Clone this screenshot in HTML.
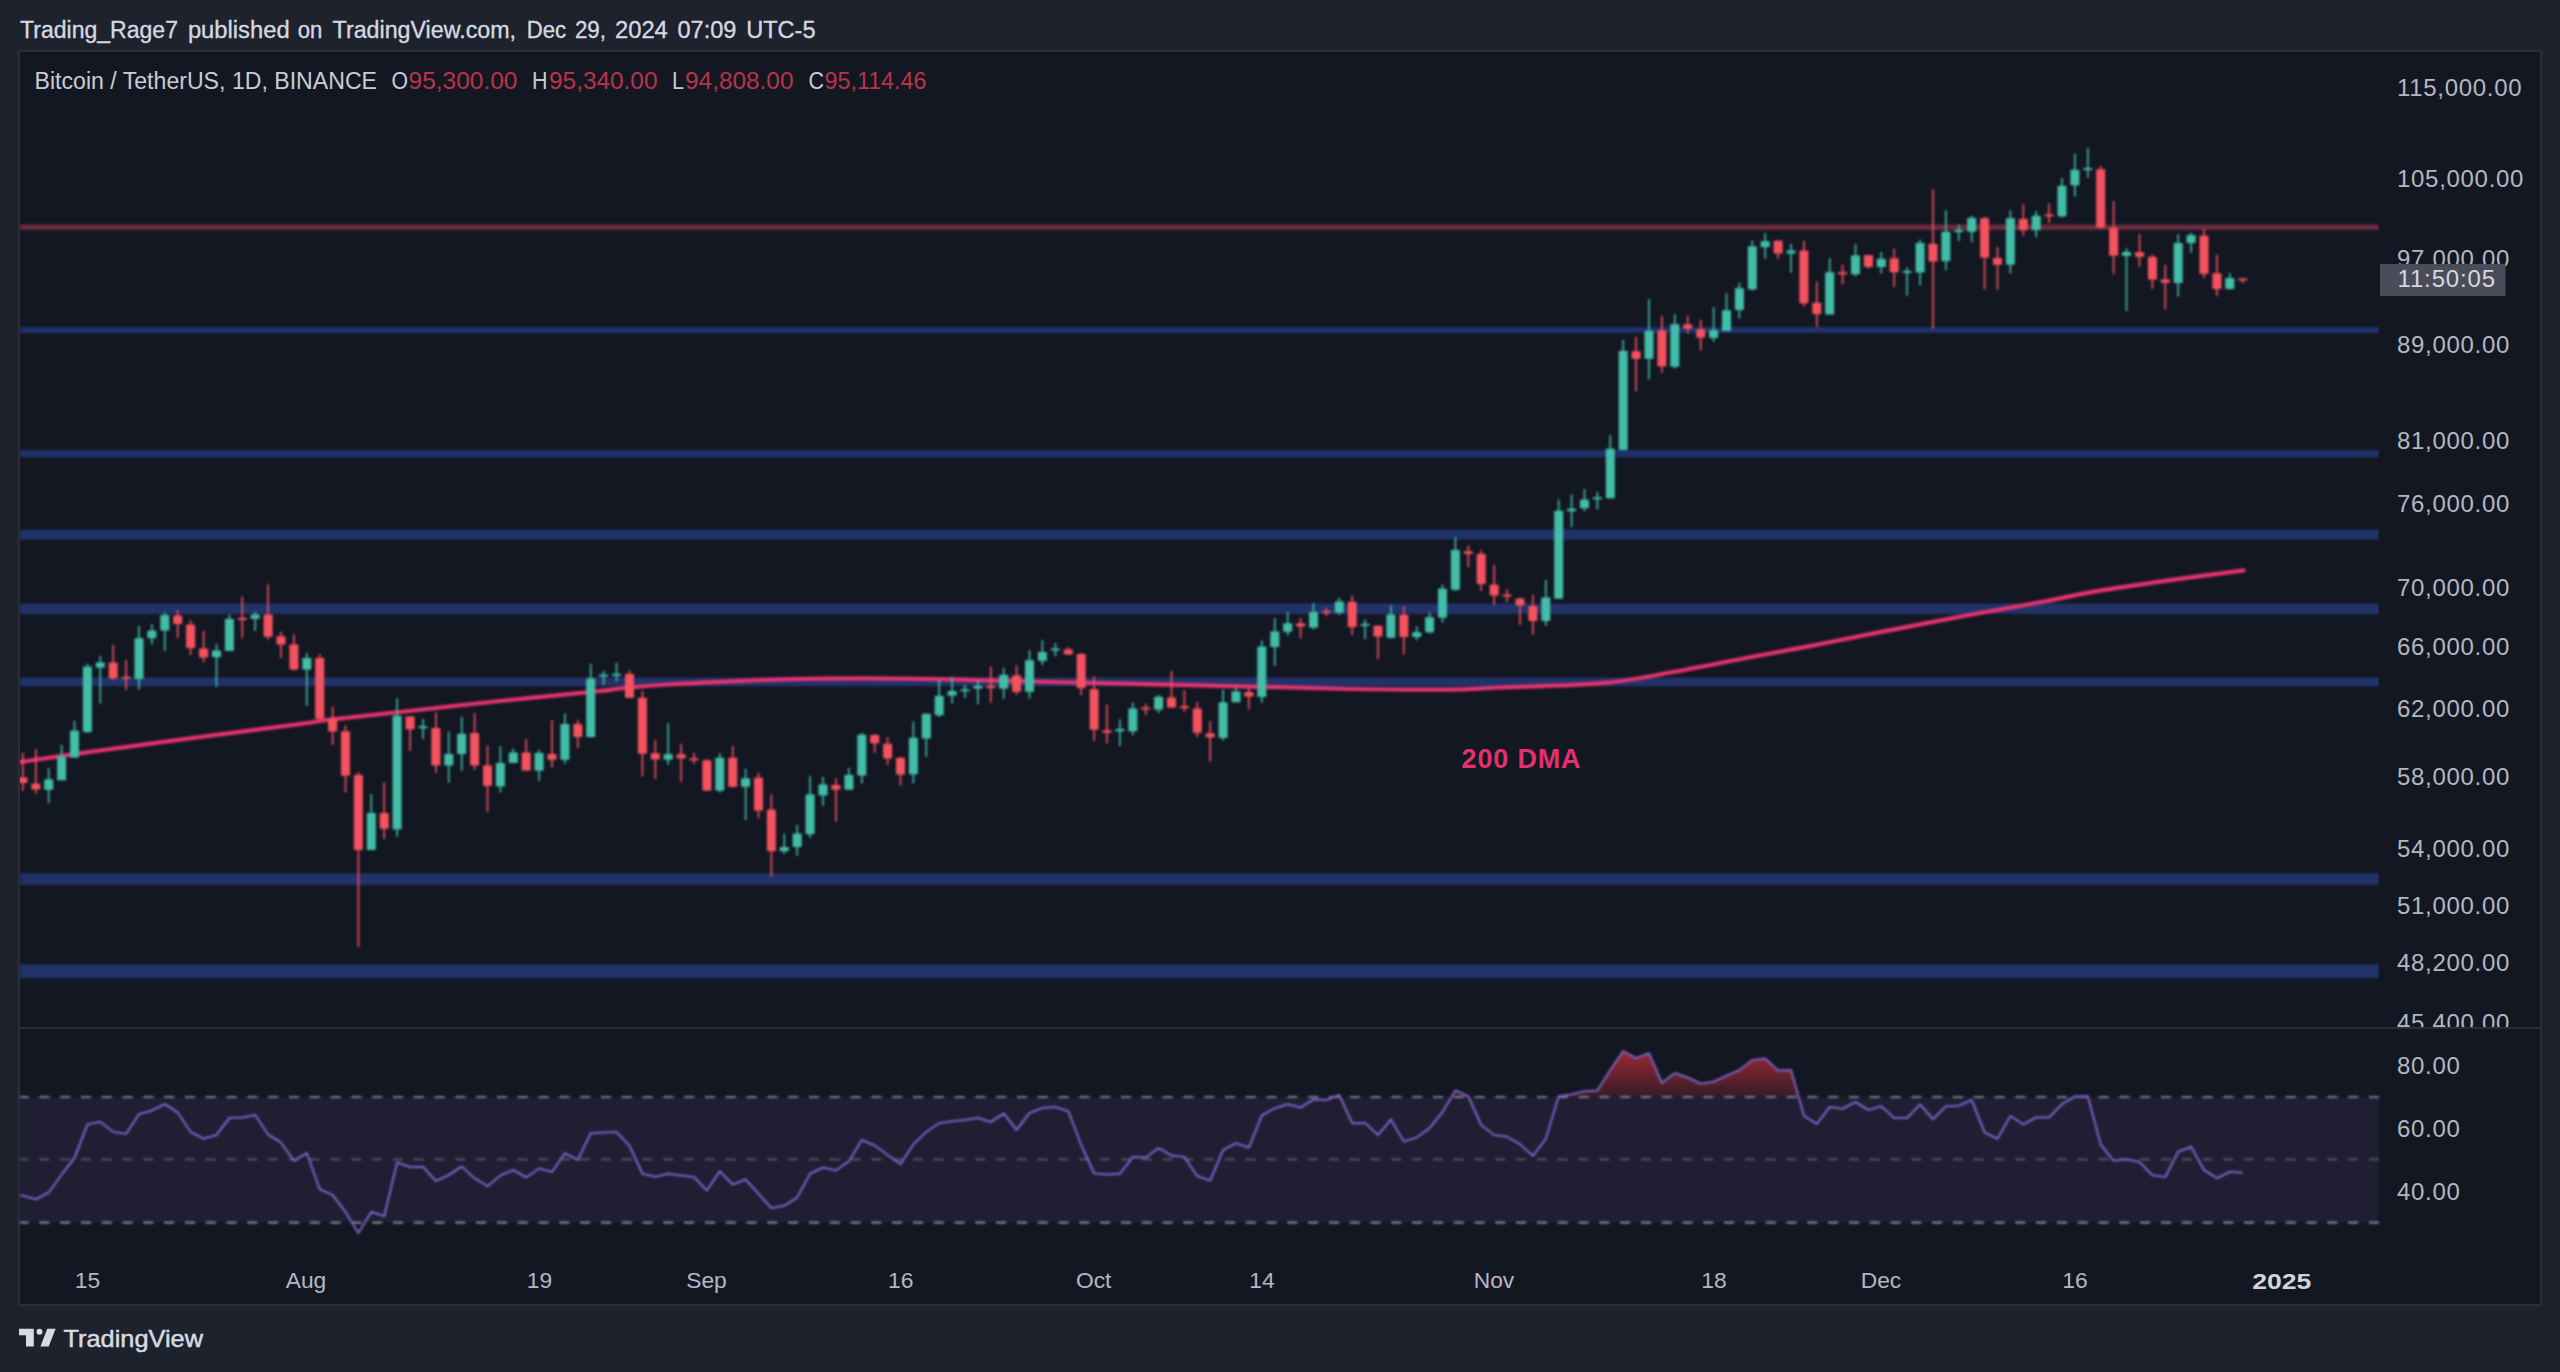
<!DOCTYPE html><html><head><meta charset="utf-8"><title>BTCUSDT chart</title>
<style>html,body{margin:0;padding:0;background:#1e222d;}body{width:2560px;height:1372px;overflow:hidden;position:relative;font-family:"Liberation Sans",sans-serif;}svg{position:absolute;left:0;top:0;display:block}text{font-family:"Liberation Sans",sans-serif;}.ax{font-size:24px;fill:#b4b7c1;letter-spacing:0.7px}.tm{font-size:22.8px;fill:#b4b7c1;text-anchor:middle}.hd{font-size:23px;fill:#d5d8e0}</style></head><body>
<svg width="2560" height="1372" viewBox="0 0 2560 1372">
<defs><clipPath id="plot"><rect x="20" y="52" width="2359" height="975"/></clipPath><clipPath id="pax"><rect x="2380" y="52" width="160" height="975"/></clipPath><clipPath id="rsiob"><rect x="20" y="1029" width="2359" height="68"/></clipPath><linearGradient id="ob" x1="0" y1="1029" x2="0" y2="1097" gradientUnits="userSpaceOnUse"><stop offset="0" stop-color="#ff3942" stop-opacity="0.78"/><stop offset="1" stop-color="#ff3942" stop-opacity="0.15"/></linearGradient><filter id="bl" x="0" y="0" width="2560" height="1372" filterUnits="userSpaceOnUse" color-interpolation-filters="sRGB"><feGaussianBlur stdDeviation="0.8"/></filter></defs>
<rect width="2560" height="1372" fill="#1e222d"/>
<rect x="19" y="51" width="2522" height="1254" fill="#131722" stroke="#2a2e39" stroke-width="2"/>
<text class="hd" y="37.6" stroke="#d5d8e0" stroke-width="0.35"><tspan x="20.0" textLength="158.0" lengthAdjust="spacingAndGlyphs">Trading_Rage7</tspan> <tspan x="187.9" textLength="101.7" lengthAdjust="spacingAndGlyphs">published</tspan> <tspan x="297.8" textLength="24.6" lengthAdjust="spacingAndGlyphs">on</tspan> <tspan x="332.6" textLength="183.4" lengthAdjust="spacingAndGlyphs">TradingView.com,</tspan> <tspan x="526.8" textLength="39.4" lengthAdjust="spacingAndGlyphs">Dec</tspan> <tspan x="574.9" textLength="31.1" lengthAdjust="spacingAndGlyphs">29,</tspan> <tspan x="615" textLength="52.8" lengthAdjust="spacingAndGlyphs">2024</tspan> <tspan x="677.5" textLength="58.9" lengthAdjust="spacingAndGlyphs">07:09</tspan> <tspan x="746.2" textLength="69.4" lengthAdjust="spacingAndGlyphs">UTC-5</tspan></text>
<g clip-path="url(#plot)"><g filter="url(#bl)">
<rect x="20" y="224.6" width="2359" height="5.4" fill="#6a2c40"/>
<rect x="20" y="327" width="2359" height="6.0" fill="#203268"/>
<rect x="20" y="450" width="2359" height="7.3" fill="#203268"/>
<rect x="20" y="529.5" width="2359" height="10.0" fill="#203268"/>
<rect x="20" y="603.5" width="2359" height="10.5" fill="#203268"/>
<rect x="20" y="677.5" width="2359" height="8.7" fill="#203268"/>
<rect x="20" y="873.3" width="2359" height="11.7" fill="#203268"/>
<rect x="20" y="964.3" width="2359" height="13.7" fill="#203268"/>
<path d="M20,762C33.3,760.1 70.0,754.7 100,750.5C130.0,746.3 166.7,741.4 200,737C233.3,732.6 278.3,726.9 300,724C321.7,721.1 313.3,721.7 330,719.7C346.7,717.7 371.7,715.1 400,712C428.3,708.9 466.7,704.5 500,701C533.3,697.5 580.0,693.1 600,691C620.0,688.9 607.3,689.7 620,688.5C632.7,687.3 647.7,685.5 676,684C704.3,682.5 749.3,680.1 790,679.2C830.7,678.3 876.5,678.3 920,678.8C963.5,679.3 1001.0,680.8 1051,682C1101.0,683.2 1170.0,684.6 1220,685.8C1270.0,687.0 1313.3,688.4 1351,689C1388.7,689.6 1421.2,689.9 1446,689.6C1470.8,689.4 1473.8,688.6 1500,687.5C1526.2,686.4 1574.8,685.6 1603,683.1C1631.2,680.6 1644.5,677.1 1669,672.8C1693.5,668.5 1726.1,661.7 1750,657.2C1773.9,652.7 1791.7,649.6 1812.5,645.6C1833.3,641.6 1848.9,638.2 1875,633.1C1901.1,628.0 1940.3,620.4 1969,615C1997.7,609.6 2026.2,604.9 2047,601C2067.8,597.1 2075.8,594.7 2094,591.6C2112.2,588.5 2131.1,585.8 2156,582.2C2180.9,578.7 2229.1,572.3 2243.7,570.3" fill="none" stroke="#e6336f" stroke-width="4.2" stroke-linejoin="round" stroke-linecap="round"/>
<rect x="22.1" y="752.8" width="1.6" height="37.9" fill="#f5525f"/>
<rect x="18.4" y="777.5" width="9" height="5.5" fill="#f5525f"/>
<rect x="35.0" y="749.0" width="1.6" height="44.6" fill="#f5525f"/>
<rect x="31.3" y="783.7" width="9" height="5.7" fill="#f5525f"/>
<rect x="47.9" y="768.0" width="1.6" height="35.0" fill="#42bda8"/>
<rect x="44.2" y="779.4" width="9" height="10.4" fill="#42bda8"/>
<rect x="60.8" y="745.0" width="1.6" height="35.3" fill="#42bda8"/>
<rect x="57.1" y="756.6" width="9" height="23.7" fill="#42bda8"/>
<rect x="73.7" y="720.6" width="1.6" height="37.0" fill="#42bda8"/>
<rect x="70.0" y="730.7" width="9" height="26.9" fill="#42bda8"/>
<rect x="86.6" y="663.8" width="1.6" height="69.2" fill="#42bda8"/>
<rect x="82.9" y="666.6" width="9" height="65.4" fill="#42bda8"/>
<rect x="99.5" y="656.0" width="1.6" height="47.6" fill="#42bda8"/>
<rect x="95.8" y="662.5" width="9" height="5.1" fill="#42bda8"/>
<rect x="112.4" y="644.8" width="1.6" height="35.2" fill="#f5525f"/>
<rect x="108.7" y="662.5" width="9" height="15.9" fill="#f5525f"/>
<rect x="125.3" y="660.0" width="1.6" height="30.0" fill="#f5525f"/>
<rect x="121.6" y="676.7" width="9" height="2.0" fill="#f5525f"/>
<rect x="138.2" y="626.0" width="1.6" height="63.7" fill="#42bda8"/>
<rect x="134.5" y="638.2" width="9" height="40.8" fill="#42bda8"/>
<rect x="151.1" y="624.0" width="1.6" height="20.5" fill="#42bda8"/>
<rect x="147.4" y="630.6" width="9" height="7.6" fill="#42bda8"/>
<rect x="164.0" y="612.6" width="1.6" height="38.4" fill="#42bda8"/>
<rect x="160.3" y="615.0" width="9" height="15.6" fill="#42bda8"/>
<rect x="176.9" y="609.8" width="1.6" height="28.4" fill="#f5525f"/>
<rect x="173.2" y="615.5" width="9" height="8.5" fill="#f5525f"/>
<rect x="189.8" y="620.2" width="1.6" height="35.1" fill="#f5525f"/>
<rect x="186.1" y="624.6" width="9" height="23.4" fill="#f5525f"/>
<rect x="202.8" y="630.6" width="1.6" height="31.4" fill="#f5525f"/>
<rect x="199.1" y="648.6" width="9" height="8.9" fill="#f5525f"/>
<rect x="215.7" y="644.0" width="1.6" height="43.0" fill="#42bda8"/>
<rect x="212.0" y="650.5" width="9" height="6.7" fill="#42bda8"/>
<rect x="228.6" y="614.5" width="1.6" height="36.5" fill="#42bda8"/>
<rect x="224.9" y="618.9" width="9" height="32.1" fill="#42bda8"/>
<rect x="241.5" y="596.5" width="1.6" height="41.7" fill="#f5525f"/>
<rect x="237.8" y="618.0" width="9" height="2.0" fill="#f5525f"/>
<rect x="254.4" y="611.7" width="1.6" height="19.3" fill="#42bda8"/>
<rect x="250.7" y="614.5" width="9" height="4.4" fill="#42bda8"/>
<rect x="267.3" y="584.2" width="1.6" height="55.5" fill="#f5525f"/>
<rect x="263.6" y="614.5" width="9" height="22.2" fill="#f5525f"/>
<rect x="280.2" y="631.6" width="1.6" height="26.4" fill="#f5525f"/>
<rect x="276.5" y="636.3" width="9" height="8.2" fill="#f5525f"/>
<rect x="293.1" y="634.4" width="1.6" height="36.0" fill="#f5525f"/>
<rect x="289.4" y="644.5" width="9" height="25.0" fill="#f5525f"/>
<rect x="306.0" y="653.0" width="1.6" height="53.0" fill="#42bda8"/>
<rect x="302.3" y="658.0" width="9" height="11.5" fill="#42bda8"/>
<rect x="318.9" y="654.0" width="1.6" height="65.0" fill="#f5525f"/>
<rect x="315.2" y="658.0" width="9" height="60.6" fill="#f5525f"/>
<rect x="331.8" y="706.7" width="1.6" height="38.3" fill="#f5525f"/>
<rect x="328.1" y="719.0" width="9" height="12.5" fill="#f5525f"/>
<rect x="344.7" y="725.4" width="1.6" height="67.1" fill="#f5525f"/>
<rect x="341.0" y="731.5" width="9" height="44.1" fill="#f5525f"/>
<rect x="357.6" y="772.0" width="1.6" height="175.0" fill="#f5525f"/>
<rect x="353.9" y="775.0" width="9" height="75.0" fill="#f5525f"/>
<rect x="370.5" y="794.0" width="1.6" height="56.0" fill="#42bda8"/>
<rect x="366.8" y="813.0" width="9" height="37.0" fill="#42bda8"/>
<rect x="383.4" y="782.4" width="1.6" height="56.5" fill="#f5525f"/>
<rect x="379.7" y="813.0" width="9" height="15.7" fill="#f5525f"/>
<rect x="396.3" y="698.3" width="1.6" height="138.3" fill="#42bda8"/>
<rect x="392.6" y="715.7" width="9" height="113.7" fill="#42bda8"/>
<rect x="409.3" y="716.4" width="1.6" height="34.6" fill="#f5525f"/>
<rect x="405.6" y="716.4" width="9" height="12.9" fill="#f5525f"/>
<rect x="422.2" y="719.0" width="1.6" height="20.0" fill="#42bda8"/>
<rect x="418.5" y="726.2" width="9" height="2.0" fill="#42bda8"/>
<rect x="435.1" y="712.3" width="1.6" height="60.7" fill="#f5525f"/>
<rect x="431.4" y="728.0" width="9" height="37.4" fill="#f5525f"/>
<rect x="448.0" y="731.5" width="1.6" height="51.3" fill="#42bda8"/>
<rect x="444.3" y="754.0" width="9" height="11.4" fill="#42bda8"/>
<rect x="460.9" y="716.8" width="1.6" height="54.2" fill="#42bda8"/>
<rect x="457.2" y="733.8" width="9" height="20.2" fill="#42bda8"/>
<rect x="473.8" y="712.8" width="1.6" height="57.2" fill="#f5525f"/>
<rect x="470.1" y="733.0" width="9" height="32.4" fill="#f5525f"/>
<rect x="486.7" y="745.8" width="1.6" height="66.2" fill="#f5525f"/>
<rect x="483.0" y="765.4" width="9" height="20.4" fill="#f5525f"/>
<rect x="499.6" y="746.0" width="1.6" height="46.5" fill="#42bda8"/>
<rect x="495.9" y="763.0" width="9" height="23.4" fill="#42bda8"/>
<rect x="512.5" y="748.5" width="1.6" height="14.5" fill="#42bda8"/>
<rect x="508.8" y="752.5" width="9" height="10.5" fill="#42bda8"/>
<rect x="525.4" y="739.0" width="1.6" height="31.6" fill="#f5525f"/>
<rect x="521.7" y="752.5" width="9" height="18.1" fill="#f5525f"/>
<rect x="538.3" y="750.0" width="1.6" height="31.0" fill="#42bda8"/>
<rect x="534.6" y="753.0" width="9" height="17.6" fill="#42bda8"/>
<rect x="551.2" y="720.0" width="1.6" height="47.7" fill="#f5525f"/>
<rect x="547.5" y="754.0" width="9" height="5.8" fill="#f5525f"/>
<rect x="564.1" y="713.4" width="1.6" height="50.4" fill="#42bda8"/>
<rect x="560.4" y="724.0" width="9" height="35.8" fill="#42bda8"/>
<rect x="577.0" y="720.0" width="1.6" height="28.0" fill="#f5525f"/>
<rect x="573.3" y="724.0" width="9" height="13.0" fill="#f5525f"/>
<rect x="589.9" y="663.7" width="1.6" height="73.9" fill="#42bda8"/>
<rect x="586.2" y="678.4" width="9" height="58.6" fill="#42bda8"/>
<rect x="602.8" y="670.8" width="1.6" height="14.4" fill="#42bda8"/>
<rect x="599.1" y="674.6" width="9" height="2.0" fill="#42bda8"/>
<rect x="615.7" y="662.5" width="1.6" height="19.0" fill="#42bda8"/>
<rect x="612.0" y="673.8" width="9" height="2.0" fill="#42bda8"/>
<rect x="628.7" y="670.3" width="1.6" height="27.7" fill="#f5525f"/>
<rect x="625.0" y="674.0" width="9" height="23.8" fill="#f5525f"/>
<rect x="641.6" y="691.0" width="1.6" height="85.4" fill="#f5525f"/>
<rect x="637.9" y="697.8" width="9" height="55.9" fill="#f5525f"/>
<rect x="654.5" y="740.0" width="1.6" height="39.0" fill="#f5525f"/>
<rect x="650.8" y="753.3" width="9" height="6.1" fill="#f5525f"/>
<rect x="667.4" y="723.4" width="1.6" height="41.3" fill="#42bda8"/>
<rect x="663.7" y="754.2" width="9" height="5.5" fill="#42bda8"/>
<rect x="680.3" y="744.0" width="1.6" height="38.0" fill="#f5525f"/>
<rect x="676.6" y="754.2" width="9" height="4.2" fill="#f5525f"/>
<rect x="693.2" y="752.7" width="1.6" height="11.3" fill="#f5525f"/>
<rect x="689.5" y="758.3" width="9" height="2.0" fill="#f5525f"/>
<rect x="706.1" y="759.4" width="1.6" height="31.2" fill="#f5525f"/>
<rect x="702.4" y="760.3" width="9" height="30.3" fill="#f5525f"/>
<rect x="719.0" y="753.3" width="1.6" height="39.2" fill="#42bda8"/>
<rect x="715.3" y="757.8" width="9" height="32.8" fill="#42bda8"/>
<rect x="731.9" y="746.0" width="1.6" height="41.4" fill="#f5525f"/>
<rect x="728.2" y="757.8" width="9" height="29.0" fill="#f5525f"/>
<rect x="744.8" y="768.5" width="1.6" height="51.5" fill="#42bda8"/>
<rect x="741.1" y="778.3" width="9" height="8.5" fill="#42bda8"/>
<rect x="757.7" y="772.6" width="1.6" height="45.9" fill="#f5525f"/>
<rect x="754.0" y="777.7" width="9" height="32.8" fill="#f5525f"/>
<rect x="770.6" y="794.4" width="1.6" height="82.4" fill="#f5525f"/>
<rect x="766.9" y="809.6" width="9" height="41.6" fill="#f5525f"/>
<rect x="783.5" y="833.6" width="1.6" height="20.4" fill="#42bda8"/>
<rect x="779.8" y="847.0" width="9" height="4.2" fill="#42bda8"/>
<rect x="796.4" y="824.7" width="1.6" height="30.9" fill="#42bda8"/>
<rect x="792.7" y="833.6" width="9" height="13.4" fill="#42bda8"/>
<rect x="809.3" y="776.0" width="1.6" height="62.0" fill="#42bda8"/>
<rect x="805.6" y="794.4" width="9" height="39.8" fill="#42bda8"/>
<rect x="822.2" y="776.8" width="1.6" height="29.0" fill="#42bda8"/>
<rect x="818.5" y="784.4" width="9" height="11.0" fill="#42bda8"/>
<rect x="835.1" y="778.3" width="1.6" height="43.6" fill="#f5525f"/>
<rect x="831.4" y="785.0" width="9" height="4.7" fill="#f5525f"/>
<rect x="848.1" y="767.9" width="1.6" height="21.8" fill="#42bda8"/>
<rect x="844.4" y="775.0" width="9" height="14.7" fill="#42bda8"/>
<rect x="861.0" y="732.8" width="1.6" height="50.8" fill="#42bda8"/>
<rect x="857.3" y="734.7" width="9" height="40.8" fill="#42bda8"/>
<rect x="873.9" y="733.8" width="1.6" height="18.9" fill="#f5525f"/>
<rect x="870.2" y="735.0" width="9" height="8.3" fill="#f5525f"/>
<rect x="886.8" y="737.0" width="1.6" height="28.0" fill="#f5525f"/>
<rect x="883.1" y="743.8" width="9" height="14.6" fill="#f5525f"/>
<rect x="899.7" y="757.0" width="1.6" height="28.5" fill="#f5525f"/>
<rect x="896.0" y="757.8" width="9" height="16.8" fill="#f5525f"/>
<rect x="912.6" y="721.6" width="1.6" height="61.9" fill="#42bda8"/>
<rect x="908.9" y="737.8" width="9" height="36.4" fill="#42bda8"/>
<rect x="925.5" y="713.3" width="1.6" height="43.5" fill="#42bda8"/>
<rect x="921.8" y="713.8" width="9" height="24.7" fill="#42bda8"/>
<rect x="938.4" y="680.0" width="1.6" height="37.0" fill="#42bda8"/>
<rect x="934.7" y="695.8" width="9" height="19.4" fill="#42bda8"/>
<rect x="951.3" y="676.7" width="1.6" height="27.1" fill="#42bda8"/>
<rect x="947.6" y="691.0" width="9" height="4.6" fill="#42bda8"/>
<rect x="964.2" y="684.8" width="1.6" height="13.2" fill="#42bda8"/>
<rect x="960.5" y="689.3" width="9" height="2.0" fill="#42bda8"/>
<rect x="977.1" y="680.0" width="1.6" height="24.4" fill="#42bda8"/>
<rect x="973.4" y="685.8" width="9" height="2.8" fill="#42bda8"/>
<rect x="990.0" y="666.5" width="1.6" height="36.0" fill="#f5525f"/>
<rect x="986.3" y="685.8" width="9" height="2.2" fill="#f5525f"/>
<rect x="1002.9" y="667.8" width="1.6" height="31.2" fill="#42bda8"/>
<rect x="999.2" y="674.8" width="9" height="13.8" fill="#42bda8"/>
<rect x="1015.8" y="665.3" width="1.6" height="29.6" fill="#f5525f"/>
<rect x="1012.1" y="675.4" width="9" height="16.4" fill="#f5525f"/>
<rect x="1028.7" y="650.2" width="1.6" height="48.5" fill="#42bda8"/>
<rect x="1025.0" y="660.2" width="9" height="31.6" fill="#42bda8"/>
<rect x="1041.6" y="640.0" width="1.6" height="25.0" fill="#42bda8"/>
<rect x="1037.9" y="652.0" width="9" height="8.8" fill="#42bda8"/>
<rect x="1054.6" y="643.0" width="1.6" height="13.4" fill="#42bda8"/>
<rect x="1050.9" y="648.5" width="9" height="2.0" fill="#42bda8"/>
<rect x="1067.5" y="647.0" width="1.6" height="8.0" fill="#f5525f"/>
<rect x="1063.8" y="649.4" width="9" height="5.1" fill="#f5525f"/>
<rect x="1080.4" y="653.2" width="1.6" height="42.1" fill="#f5525f"/>
<rect x="1076.7" y="654.0" width="9" height="34.0" fill="#f5525f"/>
<rect x="1093.3" y="676.3" width="1.6" height="64.4" fill="#f5525f"/>
<rect x="1089.6" y="689.2" width="9" height="40.5" fill="#f5525f"/>
<rect x="1106.2" y="704.4" width="1.6" height="39.2" fill="#f5525f"/>
<rect x="1102.5" y="730.3" width="9" height="2.5" fill="#f5525f"/>
<rect x="1119.1" y="719.5" width="1.6" height="26.5" fill="#42bda8"/>
<rect x="1115.4" y="729.0" width="9" height="2.3" fill="#42bda8"/>
<rect x="1132.0" y="702.5" width="1.6" height="32.9" fill="#42bda8"/>
<rect x="1128.3" y="708.5" width="9" height="22.8" fill="#42bda8"/>
<rect x="1144.9" y="703.8" width="1.6" height="11.4" fill="#f5525f"/>
<rect x="1141.2" y="707.5" width="9" height="2.0" fill="#f5525f"/>
<rect x="1157.8" y="694.9" width="1.6" height="18.4" fill="#42bda8"/>
<rect x="1154.1" y="696.8" width="9" height="12.7" fill="#42bda8"/>
<rect x="1170.7" y="670.6" width="1.6" height="37.0" fill="#f5525f"/>
<rect x="1167.0" y="697.5" width="9" height="10.1" fill="#f5525f"/>
<rect x="1183.6" y="690.0" width="1.6" height="22.0" fill="#f5525f"/>
<rect x="1179.9" y="706.2" width="9" height="2.0" fill="#f5525f"/>
<rect x="1196.5" y="702.0" width="1.6" height="35.3" fill="#f5525f"/>
<rect x="1192.8" y="708.5" width="9" height="24.3" fill="#f5525f"/>
<rect x="1209.4" y="721.0" width="1.6" height="40.6" fill="#f5525f"/>
<rect x="1205.7" y="733.3" width="9" height="4.1" fill="#f5525f"/>
<rect x="1222.3" y="689.6" width="1.6" height="51.1" fill="#42bda8"/>
<rect x="1218.6" y="702.3" width="9" height="35.6" fill="#42bda8"/>
<rect x="1235.2" y="687.7" width="1.6" height="14.6" fill="#42bda8"/>
<rect x="1231.5" y="691.5" width="9" height="10.8" fill="#42bda8"/>
<rect x="1248.1" y="688.6" width="1.6" height="20.9" fill="#f5525f"/>
<rect x="1244.4" y="692.0" width="9" height="4.6" fill="#f5525f"/>
<rect x="1261.0" y="640.3" width="1.6" height="62.5" fill="#42bda8"/>
<rect x="1257.3" y="646.6" width="9" height="50.4" fill="#42bda8"/>
<rect x="1274.0" y="618.0" width="1.6" height="47.9" fill="#42bda8"/>
<rect x="1270.3" y="631.4" width="9" height="15.6" fill="#42bda8"/>
<rect x="1286.9" y="612.0" width="1.6" height="23.6" fill="#42bda8"/>
<rect x="1283.2" y="623.3" width="9" height="8.5" fill="#42bda8"/>
<rect x="1299.8" y="618.0" width="1.6" height="20.4" fill="#f5525f"/>
<rect x="1296.1" y="623.3" width="9" height="3.2" fill="#f5525f"/>
<rect x="1312.7" y="603.0" width="1.6" height="26.5" fill="#42bda8"/>
<rect x="1309.0" y="612.0" width="9" height="15.6" fill="#42bda8"/>
<rect x="1325.6" y="608.0" width="1.6" height="8.0" fill="#f5525f"/>
<rect x="1321.9" y="611.1" width="9" height="2.0" fill="#f5525f"/>
<rect x="1338.5" y="597.7" width="1.6" height="17.0" fill="#42bda8"/>
<rect x="1334.8" y="601.5" width="9" height="11.3" fill="#42bda8"/>
<rect x="1351.4" y="595.4" width="1.6" height="39.8" fill="#f5525f"/>
<rect x="1347.7" y="601.8" width="9" height="25.2" fill="#f5525f"/>
<rect x="1364.3" y="619.5" width="1.6" height="19.5" fill="#42bda8"/>
<rect x="1360.6" y="623.8" width="9" height="2.0" fill="#42bda8"/>
<rect x="1377.2" y="625.7" width="1.6" height="33.6" fill="#f5525f"/>
<rect x="1373.5" y="625.7" width="9" height="10.8" fill="#f5525f"/>
<rect x="1390.1" y="605.3" width="1.6" height="33.1" fill="#42bda8"/>
<rect x="1386.4" y="614.4" width="9" height="23.4" fill="#42bda8"/>
<rect x="1403.0" y="606.2" width="1.6" height="48.3" fill="#f5525f"/>
<rect x="1399.3" y="614.7" width="9" height="22.3" fill="#f5525f"/>
<rect x="1415.9" y="626.5" width="1.6" height="13.8" fill="#42bda8"/>
<rect x="1412.2" y="632.2" width="9" height="4.8" fill="#42bda8"/>
<rect x="1428.8" y="612.5" width="1.6" height="21.2" fill="#42bda8"/>
<rect x="1425.1" y="617.2" width="9" height="15.0" fill="#42bda8"/>
<rect x="1441.7" y="584.4" width="1.6" height="38.3" fill="#42bda8"/>
<rect x="1438.0" y="588.6" width="9" height="29.0" fill="#42bda8"/>
<rect x="1454.6" y="537.4" width="1.6" height="53.6" fill="#42bda8"/>
<rect x="1450.9" y="550.0" width="9" height="39.7" fill="#42bda8"/>
<rect x="1467.5" y="545.6" width="1.6" height="21.8" fill="#f5525f"/>
<rect x="1463.8" y="551.3" width="9" height="2.7" fill="#f5525f"/>
<rect x="1480.4" y="550.3" width="1.6" height="40.7" fill="#f5525f"/>
<rect x="1476.7" y="554.0" width="9" height="30.0" fill="#f5525f"/>
<rect x="1493.4" y="564.6" width="1.6" height="40.4" fill="#f5525f"/>
<rect x="1489.7" y="584.7" width="9" height="10.8" fill="#f5525f"/>
<rect x="1506.3" y="589.2" width="1.6" height="12.8" fill="#f5525f"/>
<rect x="1502.6" y="594.5" width="9" height="2.0" fill="#f5525f"/>
<rect x="1519.2" y="597.5" width="1.6" height="27.5" fill="#f5525f"/>
<rect x="1515.5" y="598.6" width="9" height="6.9" fill="#f5525f"/>
<rect x="1532.1" y="595.0" width="1.6" height="39.7" fill="#f5525f"/>
<rect x="1528.4" y="606.0" width="9" height="15.0" fill="#f5525f"/>
<rect x="1545.0" y="580.0" width="1.6" height="46.0" fill="#42bda8"/>
<rect x="1541.3" y="597.5" width="9" height="23.5" fill="#42bda8"/>
<rect x="1557.9" y="499.6" width="1.6" height="99.1" fill="#42bda8"/>
<rect x="1554.2" y="510.7" width="9" height="88.0" fill="#42bda8"/>
<rect x="1570.8" y="494.6" width="1.6" height="32.2" fill="#42bda8"/>
<rect x="1567.1" y="508.7" width="9" height="2.5" fill="#42bda8"/>
<rect x="1583.7" y="488.9" width="1.6" height="22.3" fill="#42bda8"/>
<rect x="1580.0" y="499.6" width="9" height="8.6" fill="#42bda8"/>
<rect x="1596.6" y="492.0" width="1.6" height="17.5" fill="#42bda8"/>
<rect x="1592.9" y="497.3" width="9" height="2.0" fill="#42bda8"/>
<rect x="1609.5" y="435.0" width="1.6" height="63.3" fill="#42bda8"/>
<rect x="1605.8" y="448.7" width="9" height="49.6" fill="#42bda8"/>
<rect x="1622.4" y="339.9" width="1.6" height="110.1" fill="#42bda8"/>
<rect x="1618.7" y="350.8" width="9" height="99.2" fill="#42bda8"/>
<rect x="1635.3" y="336.8" width="1.6" height="54.7" fill="#f5525f"/>
<rect x="1631.6" y="351.3" width="9" height="7.5" fill="#f5525f"/>
<rect x="1648.2" y="299.0" width="1.6" height="80.6" fill="#42bda8"/>
<rect x="1644.5" y="330.8" width="9" height="28.0" fill="#42bda8"/>
<rect x="1661.1" y="315.6" width="1.6" height="57.3" fill="#f5525f"/>
<rect x="1657.4" y="330.4" width="9" height="36.0" fill="#f5525f"/>
<rect x="1674.0" y="314.2" width="1.6" height="54.2" fill="#42bda8"/>
<rect x="1670.3" y="324.2" width="9" height="42.5" fill="#42bda8"/>
<rect x="1686.9" y="315.4" width="1.6" height="18.0" fill="#f5525f"/>
<rect x="1683.2" y="324.4" width="9" height="4.3" fill="#f5525f"/>
<rect x="1699.9" y="320.0" width="1.6" height="30.5" fill="#f5525f"/>
<rect x="1696.2" y="329.3" width="9" height="8.3" fill="#f5525f"/>
<rect x="1712.8" y="307.2" width="1.6" height="34.7" fill="#42bda8"/>
<rect x="1709.1" y="330.0" width="9" height="8.0" fill="#42bda8"/>
<rect x="1725.7" y="293.2" width="1.6" height="37.8" fill="#42bda8"/>
<rect x="1722.0" y="310.2" width="9" height="20.8" fill="#42bda8"/>
<rect x="1738.6" y="282.6" width="1.6" height="35.7" fill="#42bda8"/>
<rect x="1734.9" y="288.2" width="9" height="21.8" fill="#42bda8"/>
<rect x="1751.5" y="240.4" width="1.6" height="50.3" fill="#42bda8"/>
<rect x="1747.8" y="246.3" width="9" height="43.0" fill="#42bda8"/>
<rect x="1764.4" y="232.9" width="1.6" height="25.9" fill="#42bda8"/>
<rect x="1760.7" y="241.2" width="9" height="5.9" fill="#42bda8"/>
<rect x="1777.3" y="240.4" width="1.6" height="18.4" fill="#f5525f"/>
<rect x="1773.6" y="240.7" width="9" height="12.8" fill="#f5525f"/>
<rect x="1790.2" y="243.8" width="1.6" height="28.8" fill="#42bda8"/>
<rect x="1786.5" y="250.5" width="9" height="3.0" fill="#42bda8"/>
<rect x="1803.1" y="240.7" width="1.6" height="65.9" fill="#f5525f"/>
<rect x="1799.4" y="250.5" width="9" height="52.8" fill="#f5525f"/>
<rect x="1816.0" y="281.5" width="1.6" height="45.2" fill="#f5525f"/>
<rect x="1812.3" y="302.8" width="9" height="11.3" fill="#f5525f"/>
<rect x="1828.9" y="258.0" width="1.6" height="56.5" fill="#42bda8"/>
<rect x="1825.2" y="272.2" width="9" height="42.3" fill="#42bda8"/>
<rect x="1841.8" y="264.7" width="1.6" height="19.6" fill="#f5525f"/>
<rect x="1838.1" y="272.2" width="9" height="2.1" fill="#f5525f"/>
<rect x="1854.7" y="244.0" width="1.6" height="32.4" fill="#42bda8"/>
<rect x="1851.0" y="255.5" width="9" height="18.8" fill="#42bda8"/>
<rect x="1867.6" y="255.1" width="1.6" height="13.5" fill="#f5525f"/>
<rect x="1863.9" y="255.1" width="9" height="11.8" fill="#f5525f"/>
<rect x="1880.5" y="251.8" width="1.6" height="21.7" fill="#42bda8"/>
<rect x="1876.8" y="258.9" width="9" height="8.1" fill="#42bda8"/>
<rect x="1893.4" y="248.5" width="1.6" height="38.7" fill="#f5525f"/>
<rect x="1889.7" y="258.4" width="9" height="13.9" fill="#f5525f"/>
<rect x="1906.3" y="267.1" width="1.6" height="28.7" fill="#42bda8"/>
<rect x="1902.6" y="270.9" width="9" height="2.0" fill="#42bda8"/>
<rect x="1919.3" y="239.8" width="1.6" height="45.7" fill="#42bda8"/>
<rect x="1915.6" y="243.0" width="9" height="29.5" fill="#42bda8"/>
<rect x="1932.2" y="189.3" width="1.6" height="139.5" fill="#f5525f"/>
<rect x="1928.5" y="243.8" width="9" height="17.7" fill="#f5525f"/>
<rect x="1945.1" y="210.2" width="1.6" height="60.1" fill="#42bda8"/>
<rect x="1941.4" y="231.8" width="9" height="29.3" fill="#42bda8"/>
<rect x="1958.0" y="224.6" width="1.6" height="16.4" fill="#42bda8"/>
<rect x="1954.3" y="230.0" width="9" height="2.0" fill="#42bda8"/>
<rect x="1970.9" y="215.8" width="1.6" height="26.4" fill="#42bda8"/>
<rect x="1967.2" y="217.9" width="9" height="13.9" fill="#42bda8"/>
<rect x="1983.8" y="216.6" width="1.6" height="72.9" fill="#f5525f"/>
<rect x="1980.1" y="218.2" width="9" height="39.3" fill="#f5525f"/>
<rect x="1996.7" y="247.0" width="1.6" height="42.5" fill="#f5525f"/>
<rect x="1993.0" y="258.0" width="9" height="6.7" fill="#f5525f"/>
<rect x="2009.6" y="210.2" width="1.6" height="63.3" fill="#42bda8"/>
<rect x="2005.9" y="218.2" width="9" height="46.5" fill="#42bda8"/>
<rect x="2022.5" y="204.0" width="1.6" height="31.8" fill="#f5525f"/>
<rect x="2018.8" y="219.0" width="9" height="11.2" fill="#f5525f"/>
<rect x="2035.4" y="211.0" width="1.6" height="26.4" fill="#42bda8"/>
<rect x="2031.7" y="215.8" width="9" height="14.4" fill="#42bda8"/>
<rect x="2048.3" y="203.4" width="1.6" height="19.6" fill="#f5525f"/>
<rect x="2044.6" y="214.4" width="9" height="2.0" fill="#f5525f"/>
<rect x="2061.2" y="178.0" width="1.6" height="39.4" fill="#42bda8"/>
<rect x="2057.5" y="185.8" width="9" height="30.5" fill="#42bda8"/>
<rect x="2074.1" y="153.7" width="1.6" height="42.8" fill="#42bda8"/>
<rect x="2070.4" y="169.8" width="9" height="15.5" fill="#42bda8"/>
<rect x="2087.0" y="148.0" width="1.6" height="29.8" fill="#42bda8"/>
<rect x="2083.3" y="168.0" width="9" height="2.0" fill="#42bda8"/>
<rect x="2099.9" y="166.0" width="1.6" height="62.6" fill="#f5525f"/>
<rect x="2096.2" y="169.3" width="9" height="58.3" fill="#f5525f"/>
<rect x="2112.8" y="201.2" width="1.6" height="72.8" fill="#f5525f"/>
<rect x="2109.1" y="227.8" width="9" height="27.8" fill="#f5525f"/>
<rect x="2125.7" y="248.2" width="1.6" height="63.0" fill="#42bda8"/>
<rect x="2122.0" y="252.0" width="9" height="3.8" fill="#42bda8"/>
<rect x="2138.7" y="233.9" width="1.6" height="33.1" fill="#f5525f"/>
<rect x="2135.0" y="252.1" width="9" height="4.7" fill="#f5525f"/>
<rect x="2151.6" y="254.4" width="1.6" height="34.4" fill="#f5525f"/>
<rect x="2147.9" y="257.0" width="9" height="22.5" fill="#f5525f"/>
<rect x="2164.5" y="264.6" width="1.6" height="44.7" fill="#f5525f"/>
<rect x="2160.8" y="279.5" width="9" height="3.3" fill="#f5525f"/>
<rect x="2177.4" y="234.2" width="1.6" height="62.4" fill="#42bda8"/>
<rect x="2173.7" y="243.0" width="9" height="40.0" fill="#42bda8"/>
<rect x="2190.3" y="232.8" width="1.6" height="20.0" fill="#42bda8"/>
<rect x="2186.6" y="235.2" width="9" height="7.8" fill="#42bda8"/>
<rect x="2203.2" y="229.0" width="1.6" height="49.0" fill="#f5525f"/>
<rect x="2199.5" y="235.7" width="9" height="38.2" fill="#f5525f"/>
<rect x="2216.1" y="254.6" width="1.6" height="41.4" fill="#f5525f"/>
<rect x="2212.4" y="273.3" width="9" height="15.7" fill="#f5525f"/>
<rect x="2229.0" y="273.3" width="1.6" height="16.3" fill="#42bda8"/>
<rect x="2225.3" y="278.0" width="9" height="11.0" fill="#42bda8"/>
<rect x="2241.9" y="278.4" width="1.6" height="4.8" fill="#f5525f"/>
<rect x="2238.2" y="278.4" width="9" height="2.0" fill="#f5525f"/>
</g>
<text x="1461.6" y="767.5" font-size="27" font-weight="bold" fill="#e3306e" textLength="119" lengthAdjust="spacing">200 DMA</text>
</g>
<text x="34.5" y="88.9" font-size="23" fill="#c9ccd6" textLength="342.5" lengthAdjust="spacingAndGlyphs">Bitcoin / TetherUS, 1D, BINANCE</text>
<text x="391.5" y="88.9" font-size="23" fill="#c9ccd6" textLength="16.5" lengthAdjust="spacingAndGlyphs">O</text>
<text x="408.5" y="88.9" font-size="23" fill="#b9344a" textLength="109" lengthAdjust="spacingAndGlyphs">95,300.00</text>
<text x="532" y="88.9" font-size="23" fill="#c9ccd6" textLength="15.5" lengthAdjust="spacingAndGlyphs">H</text>
<text x="549" y="88.9" font-size="23" fill="#b9344a" textLength="108.5" lengthAdjust="spacingAndGlyphs">95,340.00</text>
<text x="672" y="88.9" font-size="23" fill="#c9ccd6" textLength="12" lengthAdjust="spacingAndGlyphs">L</text>
<text x="685" y="88.9" font-size="23" fill="#b9344a" textLength="108.5" lengthAdjust="spacingAndGlyphs">94,808.00</text>
<text x="808.5" y="88.9" font-size="23" fill="#c9ccd6" textLength="15.5" lengthAdjust="spacingAndGlyphs">C</text>
<text x="824.5" y="88.9" font-size="23" fill="#b9344a" textLength="102" lengthAdjust="spacingAndGlyphs">95,114.46</text>
<g clip-path="url(#pax)">
<text class="ax" x="2397" y="95.6">115,000.00</text>
<text class="ax" x="2397" y="186.6">105,000.00</text>
<text class="ax" x="2397" y="266.6">97,000.00</text>
<text class="ax" x="2397" y="352.6">89,000.00</text>
<text class="ax" x="2397" y="448.6">81,000.00</text>
<text class="ax" x="2397" y="511.6">76,000.00</text>
<text class="ax" x="2397" y="595.6">70,000.00</text>
<text class="ax" x="2397" y="654.6">66,000.00</text>
<text class="ax" x="2397" y="717.1">62,000.00</text>
<text class="ax" x="2397" y="784.6">58,000.00</text>
<text class="ax" x="2397" y="856.6">54,000.00</text>
<text class="ax" x="2397" y="914.1">51,000.00</text>
<text class="ax" x="2397" y="971.1">48,200.00</text>
<text class="ax" x="2397" y="1031.1">45,400.00</text>
<rect x="2380" y="264" width="125.5" height="32" fill="#4b4c5a"/>
<text x="2397.5" y="287.3" font-size="24" fill="#d5d8e0" letter-spacing="0.85">11:50:05</text>
</g>
<rect x="20" y="1027" width="2520" height="2" fill="#2a2e39"/>
<g filter="url(#bl)">
<rect x="20" y="1097" width="2359" height="125.5" fill="#1f1e33"/>
<polygon clip-path="url(#rsiob)" points="20,1097 20.0,1195.2 22.9,1195.8 35.8,1199.2 48.7,1192.5 61.6,1174.5 74.5,1158.0 87.4,1124.5 100.3,1121.8 113.2,1132.0 126.1,1133.8 139.0,1114.2 151.9,1110.5 164.8,1104.0 177.7,1112.5 190.6,1132.0 203.6,1138.8 216.5,1135.0 229.4,1118.0 242.3,1117.5 255.2,1115.0 268.1,1134.5 281.0,1142.5 293.9,1160.8 306.8,1153.0 319.7,1189.2 332.6,1195.0 345.5,1212.0 358.4,1233.0 371.3,1211.8 384.2,1216.2 397.1,1162.5 410.1,1167.0 423.0,1166.8 435.9,1181.0 448.8,1175.0 461.7,1166.5 474.6,1178.2 487.5,1186.2 500.4,1175.5 513.3,1170.0 526.2,1177.5 539.1,1168.5 552.0,1172.0 564.9,1153.2 577.8,1160.0 590.7,1133.2 603.6,1132.5 616.5,1132.0 629.5,1145.8 642.4,1173.8 655.3,1176.8 668.2,1173.8 681.1,1175.5 694.0,1177.0 706.9,1190.5 719.8,1171.2 732.7,1184.5 745.6,1179.5 758.5,1193.8 771.4,1208.0 784.3,1205.8 797.2,1197.5 810.1,1173.8 823.0,1167.5 835.9,1170.5 848.9,1161.2 861.8,1140.0 874.7,1145.5 887.6,1155.0 900.5,1164.2 913.4,1144.2 926.3,1132.0 939.2,1123.2 952.1,1121.2 965.0,1120.0 977.9,1118.0 990.8,1122.0 1003.7,1113.5 1016.6,1130.0 1029.5,1113.0 1042.4,1108.0 1055.4,1107.0 1068.3,1111.2 1081.2,1145.0 1094.1,1173.2 1107.0,1174.5 1119.9,1173.8 1132.8,1157.0 1145.7,1157.5 1158.6,1148.2 1171.5,1155.5 1184.4,1157.0 1197.3,1176.2 1210.2,1180.5 1223.1,1150.0 1236.0,1143.2 1248.9,1147.5 1261.8,1115.5 1274.8,1108.2 1287.7,1104.2 1300.6,1107.5 1313.5,1099.5 1326.4,1100.0 1339.3,1095.0 1352.2,1123.2 1365.1,1123.0 1378.0,1135.0 1390.9,1119.5 1403.8,1141.5 1416.7,1137.5 1429.6,1128.2 1442.5,1112.0 1455.4,1090.5 1468.3,1096.2 1481.2,1125.0 1494.2,1135.0 1507.1,1136.8 1520.0,1144.2 1532.9,1155.8 1545.8,1138.8 1558.7,1096.2 1571.6,1094.5 1584.5,1091.2 1597.4,1090.5 1610.3,1070.0 1623.2,1051.2 1636.1,1058.2 1649.0,1053.2 1661.9,1083.0 1674.8,1073.0 1687.7,1077.5 1700.7,1083.8 1713.6,1081.8 1726.5,1075.8 1739.4,1070.0 1752.3,1060.0 1765.2,1058.5 1778.1,1070.5 1791.0,1070.0 1803.9,1115.8 1816.8,1123.8 1829.7,1107.0 1842.6,1108.8 1855.5,1102.0 1868.4,1110.0 1881.3,1106.2 1894.2,1118.0 1907.1,1118.0 1920.1,1104.5 1933.0,1119.2 1945.9,1106.2 1958.8,1105.8 1971.7,1100.0 1984.6,1132.5 1997.5,1138.8 2010.4,1115.8 2023.3,1124.5 2036.2,1117.5 2049.1,1117.5 2062.0,1104.2 2074.9,1096.5 2087.8,1096.2 2100.7,1144.5 2113.6,1160.8 2126.5,1159.2 2139.5,1162.0 2152.4,1175.2 2165.3,1177.0 2178.2,1151.8 2191.1,1146.8 2204.0,1170.0 2216.9,1178.2 2229.8,1171.8 2242.7,1172.8 2379,1097" fill="url(#ob)"/>
<line x1="2379" x2="20" y1="1097" y2="1097" stroke="#9b9da9" stroke-opacity="1" stroke-width="1.7" stroke-dasharray="10 10.8"/>
<line x1="2379" x2="20" y1="1159.3" y2="1159.3" stroke="#9b9da9" stroke-opacity="0.5" stroke-width="1.7" stroke-dasharray="10 10.8"/>
<line x1="2379" x2="20" y1="1222.6" y2="1222.6" stroke="#9b9da9" stroke-opacity="1" stroke-width="1.7" stroke-dasharray="10 10.8"/>
<polyline points="20.0,1195.2 22.9,1195.8 35.8,1199.2 48.7,1192.5 61.6,1174.5 74.5,1158.0 87.4,1124.5 100.3,1121.8 113.2,1132.0 126.1,1133.8 139.0,1114.2 151.9,1110.5 164.8,1104.0 177.7,1112.5 190.6,1132.0 203.6,1138.8 216.5,1135.0 229.4,1118.0 242.3,1117.5 255.2,1115.0 268.1,1134.5 281.0,1142.5 293.9,1160.8 306.8,1153.0 319.7,1189.2 332.6,1195.0 345.5,1212.0 358.4,1233.0 371.3,1211.8 384.2,1216.2 397.1,1162.5 410.1,1167.0 423.0,1166.8 435.9,1181.0 448.8,1175.0 461.7,1166.5 474.6,1178.2 487.5,1186.2 500.4,1175.5 513.3,1170.0 526.2,1177.5 539.1,1168.5 552.0,1172.0 564.9,1153.2 577.8,1160.0 590.7,1133.2 603.6,1132.5 616.5,1132.0 629.5,1145.8 642.4,1173.8 655.3,1176.8 668.2,1173.8 681.1,1175.5 694.0,1177.0 706.9,1190.5 719.8,1171.2 732.7,1184.5 745.6,1179.5 758.5,1193.8 771.4,1208.0 784.3,1205.8 797.2,1197.5 810.1,1173.8 823.0,1167.5 835.9,1170.5 848.9,1161.2 861.8,1140.0 874.7,1145.5 887.6,1155.0 900.5,1164.2 913.4,1144.2 926.3,1132.0 939.2,1123.2 952.1,1121.2 965.0,1120.0 977.9,1118.0 990.8,1122.0 1003.7,1113.5 1016.6,1130.0 1029.5,1113.0 1042.4,1108.0 1055.4,1107.0 1068.3,1111.2 1081.2,1145.0 1094.1,1173.2 1107.0,1174.5 1119.9,1173.8 1132.8,1157.0 1145.7,1157.5 1158.6,1148.2 1171.5,1155.5 1184.4,1157.0 1197.3,1176.2 1210.2,1180.5 1223.1,1150.0 1236.0,1143.2 1248.9,1147.5 1261.8,1115.5 1274.8,1108.2 1287.7,1104.2 1300.6,1107.5 1313.5,1099.5 1326.4,1100.0 1339.3,1095.0 1352.2,1123.2 1365.1,1123.0 1378.0,1135.0 1390.9,1119.5 1403.8,1141.5 1416.7,1137.5 1429.6,1128.2 1442.5,1112.0 1455.4,1090.5 1468.3,1096.2 1481.2,1125.0 1494.2,1135.0 1507.1,1136.8 1520.0,1144.2 1532.9,1155.8 1545.8,1138.8 1558.7,1096.2 1571.6,1094.5 1584.5,1091.2 1597.4,1090.5 1610.3,1070.0 1623.2,1051.2 1636.1,1058.2 1649.0,1053.2 1661.9,1083.0 1674.8,1073.0 1687.7,1077.5 1700.7,1083.8 1713.6,1081.8 1726.5,1075.8 1739.4,1070.0 1752.3,1060.0 1765.2,1058.5 1778.1,1070.5 1791.0,1070.0 1803.9,1115.8 1816.8,1123.8 1829.7,1107.0 1842.6,1108.8 1855.5,1102.0 1868.4,1110.0 1881.3,1106.2 1894.2,1118.0 1907.1,1118.0 1920.1,1104.5 1933.0,1119.2 1945.9,1106.2 1958.8,1105.8 1971.7,1100.0 1984.6,1132.5 1997.5,1138.8 2010.4,1115.8 2023.3,1124.5 2036.2,1117.5 2049.1,1117.5 2062.0,1104.2 2074.9,1096.5 2087.8,1096.2 2100.7,1144.5 2113.6,1160.8 2126.5,1159.2 2139.5,1162.0 2152.4,1175.2 2165.3,1177.0 2178.2,1151.8 2191.1,1146.8 2204.0,1170.0 2216.9,1178.2 2229.8,1171.8 2242.7,1172.8" fill="none" stroke="#7c62c3" stroke-width="2.1" stroke-linejoin="round"/>
</g>
<text class="ax" x="2397" y="1073.8">80.00</text>
<text class="ax" x="2397" y="1137.4">60.00</text>
<text class="ax" x="2397" y="1200.2">40.00</text>
<text class="tm" x="87.5" y="1288.4">15</text>
<text class="tm" x="306" y="1288.4">Aug</text>
<text class="tm" x="539.5" y="1288.4">19</text>
<text class="tm" x="706.5" y="1288.4">Sep</text>
<text class="tm" x="900.7" y="1288.4">16</text>
<text class="tm" x="1093.7" y="1288.4">Oct</text>
<text class="tm" x="1262" y="1288.4">14</text>
<text class="tm" x="1494" y="1288.4">Nov</text>
<text class="tm" x="1714" y="1288.4">18</text>
<text class="tm" x="1881" y="1288.4">Dec</text>
<text class="tm" x="2075" y="1288.4">16</text>
<text x="2252.3" y="1289" font-size="22.8" font-weight="bold" fill="#d2d5dd" textLength="59" lengthAdjust="spacingAndGlyphs">2025</text>
<g fill="#d8dbe4"><path d="M19 1328.8H33.8V1346.6H26V1335.3H19Z"/><circle cx="39.5" cy="1331.8" r="3"/><path d="M47.3 1328.8H55.6L48.7 1346.6H40.4Z"/></g>
<text x="63.5" y="1347.2" font-size="24.5" fill="#d8dbe4" stroke="#d8dbe4" stroke-width="0.5" textLength="139.5" lengthAdjust="spacingAndGlyphs">TradingView</text>
</svg></body></html>
